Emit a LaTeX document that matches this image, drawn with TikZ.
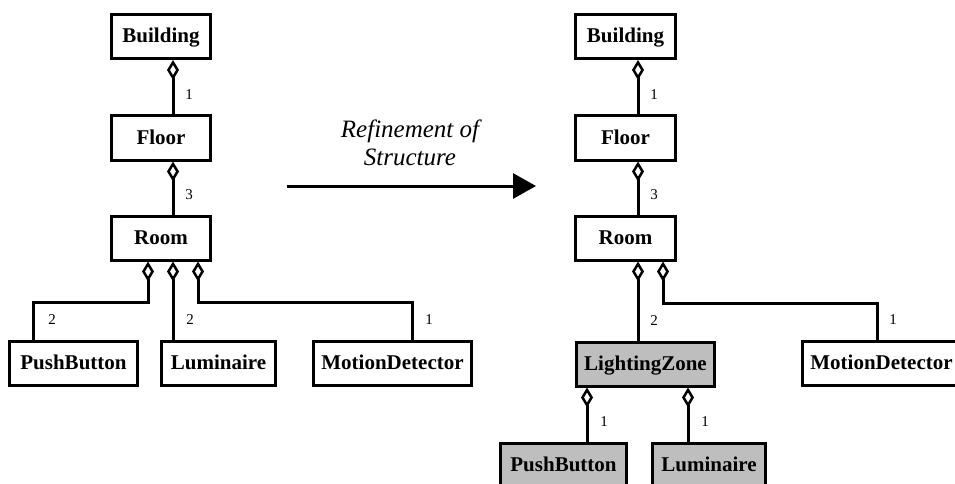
\documentclass[tikz,border=0pt]{standalone}
\usepackage{fontspec}
\setmainfont{Liberation Serif}
\usetikzlibrary{arrows.meta}
\definecolor{zonegray}{RGB}{190,190,190}
\begin{document}
\begin{tikzpicture}[x=1pt,y=-1pt,
  cls/.style={draw,line width=3pt,minimum width=#1,minimum height=44pt,inner sep=0pt,
    font=\fontsize{21}{24}\selectfont\bfseries,text height=14pt,text depth=2pt},
  refined/.style={fill=zonegray},
  agg/.style={line width=3pt,{Diamond[open,length=20pt,width=12pt,line width=2.5pt]}-},
  mult/.style={font=\fontsize{15}{18}\selectfont,inner sep=0pt},
  caption/.style={font=\fontsize{25}{28}\selectfont\itshape,inner sep=0pt,anchor=base}]
  \useasboundingbox (0,0) rectangle (955,484);
  \clip (0,0) rectangle (955,484);

  % ---------- structure before refinement ----------
  \node[cls=99]  (lBuilding) at (161,36.5)   {Building};
  \node[cls=99]  (lFloor)    at (161,138)    {Floor};
  \node[cls=99]  (lRoom)     at (161,238)    {Room};
  \node[cls=128] (lPush)     at (73.5,363.5) {PushButton};
  \node[cls=114] (lLum)      at (218.5,363.5){Luminaire};
  \node[cls=158] (lMotion)   at (392.5,363.5){MotionDetector};

  \draw[agg] ([xshift=12]lBuilding.south) -- ([xshift=12]lFloor.north);
  \draw[agg] ([xshift=12]lFloor.south) -- ([xshift=12]lRoom.north);
  \draw[agg] ([xshift=-13]lRoom.south) |- ([xshift=-40.5,yshift=38]lPush.north) -- ([xshift=-40.5]lPush.north);
  \draw[agg] ([xshift=12]lRoom.south) -- ([xshift=-45.5]lLum.north);
  \draw[agg] ([xshift=37]lRoom.south) |- ([xshift=19.5,yshift=38]lMotion.north) -- ([xshift=19.5]lMotion.north);

  \node[mult] (lm1) at (189,95)  {1};
  \node[mult] (lm2) at (189,195) {3};
  \node[mult] (lm3) at (52,320)  {2};
  \node[mult] (lm4) at (190,320) {2};
  \node[mult] (lm5) at (429,320) {1};

  % ---------- refinement arrow ----------
  \coordinate (aStart) at (287,186);
  \coordinate (aEnd)   at (536,186);
  \draw[line width=3pt,-{Triangle[length=23pt,width=25pt]}] (aStart) -- (aEnd);
  \node[caption] (cap1) at (410,138) {Refinement of};
  \node[caption] (cap2) at (410,165) {Structure};

  % ---------- refined structure ----------
  \node[cls=100] (rBuilding) at (625.5,36.5)  {Building};
  \node[cls=100] (rFloor)    at (625.5,138)   {Floor};
  \node[cls=100] (rRoom)     at (625.5,238)   {Room};
  \node[cls=138,refined] (rZone) at (645.5,364) {LightingZone};
  \node[cls=158] (rMotion)   at (881.5,363.5) {MotionDetector};
  \node[cls=126,refined] (rPush) at (563.5,465.5) {PushButton};
  \node[cls=113,refined] (rLum)  at (709,465.5)   {Luminaire};

  \draw[agg] ([xshift=12.5]rBuilding.south) -- ([xshift=12.5]rFloor.north);
  \draw[agg] ([xshift=12.5]rFloor.south) -- ([xshift=12.5]rRoom.north);
  \draw[agg] ([xshift=12.5]rRoom.south) -- ([xshift=-7.5]rZone.north);
  \draw[agg] ([xshift=37.5]rRoom.south) |- ([xshift=-4.5,yshift=37]rMotion.north) -- ([xshift=-4.5]rMotion.north);
  \draw[agg] ([xshift=-58.5]rZone.south) -- ([xshift=23.5]rPush.north);
  \draw[agg] ([xshift=42.5]rZone.south) -- ([xshift=-21]rLum.north);

  \node[mult] (rm1) at (654,95)  {1};
  \node[mult] (rm2) at (654,195) {3};
  \node[mult] (rm3) at (654,321) {2};
  \node[mult] (rm4) at (893,320) {1};
  \node[mult] (rm5) at (604,422) {1};
  \node[mult] (rm6) at (705,422) {1};
\end{tikzpicture}
\end{document}
